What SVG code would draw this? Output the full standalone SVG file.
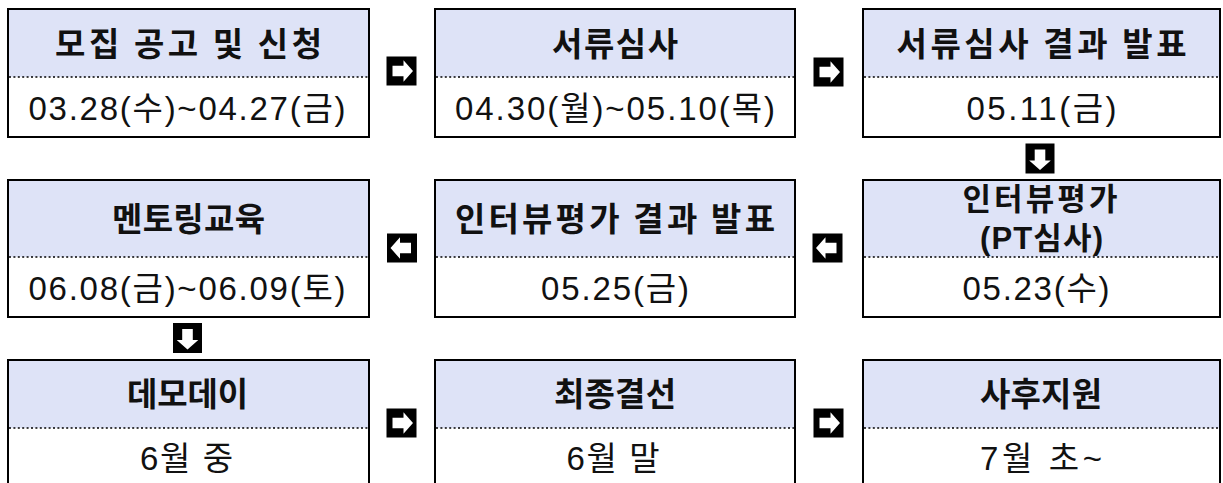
<svg xmlns="http://www.w3.org/2000/svg" xmlns:xlink="http://www.w3.org/1999/xlink" width="1223" height="483" viewBox="0 0 1223 483">
<style>
  .hd { fill: #dee3f7; stroke: none; }
  .frame { fill: none; stroke: #000; stroke-width: 2; }
  .div { stroke: #000; stroke-width: 1.6; stroke-dasharray: 2 2.4; fill: none; }
  .ht { font-family: "Noto Sans CJK KR", "Liberation Sans", sans-serif; font-size: 33px; font-weight: 700; fill: #111; text-anchor: middle; }
  .ht2 { font-family: "Liberation Sans", "Noto Sans CJK KR", sans-serif; font-size: 31px; }
  .dt { font-family: "Liberation Sans", "Noto Sans CJK KR", sans-serif; font-size: 33px; font-weight: 400; fill: #111; text-anchor: middle; }
</style>
<defs>
  <g id="arrR">
    <rect x="-15" y="-14.5" width="30" height="29" fill="#000"/>
    <polygon points="-9,-5.3 2,-5.3 2,-10.8 11.5,0 2,10.8 2,5.3 -9,5.3" fill="#fff"/>
  </g>
</defs>
<rect width="1223" height="483" fill="#fff"/>

<!-- Row 1 -->
<g id="n1">
  <rect class="hd" x="8" y="9" width="361" height="68"/>
  <line class="div" x1="9" y1="77" x2="368" y2="77"/>
  <rect class="frame" x="8" y="9" width="361" height="128"/>
  <text class="ht" x="188.5" y="56" textLength="267" lengthAdjust="spacing">모집 공고 및 신청</text>
  <text class="dt" x="187" y="120" textLength="317" lengthAdjust="spacing">03.28(수)~04.27(금)</text>
</g>
<g id="n2">
  <rect class="hd" x="435" y="9" width="360" height="68"/>
  <line class="div" x1="436" y1="77" x2="794" y2="77"/>
  <rect class="frame" x="435" y="9" width="360" height="128"/>
  <text class="ht" x="615" y="56" textLength="126" lengthAdjust="spacing">서류심사</text>
  <text class="dt" x="615" y="120" textLength="320" lengthAdjust="spacing">04.30(월)~05.10(목)</text>
</g>
<g id="n3">
  <rect class="hd" x="863" y="9" width="357" height="68"/>
  <line class="div" x1="864" y1="77" x2="1219" y2="77"/>
  <rect class="frame" x="863" y="9" width="357" height="128"/>
  <text class="ht" x="1041.5" y="56" textLength="290" lengthAdjust="spacing">서류심사 결과 발표</text>
  <text class="dt" x="1041.5" y="120" textLength="150" lengthAdjust="spacing">05.11(금)</text>
</g>

<!-- Row 2 -->
<g id="n4">
  <rect class="hd" x="8" y="180" width="361" height="77"/>
  <line class="div" x1="9" y1="257" x2="368" y2="257"/>
  <rect class="frame" x="8" y="180" width="361" height="137"/>
  <text class="ht" x="188.5" y="231" textLength="153" lengthAdjust="spacing">멘토링교육</text>
  <text class="dt" x="187" y="300" textLength="317" lengthAdjust="spacing">06.08(금)~06.09(토)</text>
</g>
<g id="n5">
  <rect class="hd" x="435" y="180" width="360" height="77"/>
  <line class="div" x1="436" y1="257" x2="794" y2="257"/>
  <rect class="frame" x="435" y="180" width="360" height="137"/>
  <text class="ht" x="615" y="231" textLength="320" lengthAdjust="spacing">인터뷰평가 결과 발표</text>
  <text class="dt" x="615" y="300" textLength="148" lengthAdjust="spacing">05.25(금)</text>
</g>
<g id="n6">
  <rect class="hd" x="863" y="180" width="357" height="77"/>
  <line class="div" x1="864" y1="257" x2="1219" y2="257"/>
  <rect class="frame" x="863" y="180" width="357" height="137"/>
  <text class="ht ht2" x="1040" y="210" textLength="155" lengthAdjust="spacing">인터뷰평가</text>
  <text class="ht ht2" x="1041.5" y="249" textLength="123" lengthAdjust="spacing">(PT심사)</text>
  <text class="dt" x="1036" y="300" textLength="147" lengthAdjust="spacing">05.23(수)</text>
</g>

<!-- Row 3 -->
<g id="n7">
  <rect class="hd" x="8" y="360" width="361" height="68"/>
  <line class="div" x1="9" y1="428" x2="368" y2="428"/>
  <rect class="frame" x="8" y="360" width="361" height="135"/>
  <text class="ht" x="187.5" y="406" textLength="121" lengthAdjust="spacing">데모데이</text>
  <text class="dt" x="186.5" y="470" textLength="93" lengthAdjust="spacing">6월 중</text>
</g>
<g id="n8">
  <rect class="hd" x="435" y="360" width="360" height="68"/>
  <line class="div" x1="436" y1="428" x2="794" y2="428"/>
  <rect class="frame" x="435" y="360" width="360" height="135"/>
  <text class="ht" x="615" y="406" textLength="122" lengthAdjust="spacing">최종결선</text>
  <text class="dt" x="613" y="470" textLength="93" lengthAdjust="spacing">6월 말</text>
</g>
<g id="n9">
  <rect class="hd" x="863" y="360" width="357" height="68"/>
  <line class="div" x1="864" y1="428" x2="1219" y2="428"/>
  <rect class="frame" x="863" y="360" width="357" height="135"/>
  <text class="ht" x="1041" y="406" textLength="122" lengthAdjust="spacing">사후지원</text>
  <text class="dt" x="1041" y="470" textLength="122" lengthAdjust="spacing">7월 초~</text>
</g>

<!-- Connectors -->
<g id="connectors">
  <use xlink:href="#arrR" transform="translate(401.5,71)"/>
  <use xlink:href="#arrR" transform="translate(828.5,72)"/>
  <use xlink:href="#arrR" transform="translate(1040,158.5) rotate(90)"/>
  <use xlink:href="#arrR" transform="translate(827.5,248) rotate(180)"/>
  <use xlink:href="#arrR" transform="translate(402,248) rotate(180)"/>
  <use xlink:href="#arrR" transform="translate(187.5,338) rotate(90)"/>
  <use xlink:href="#arrR" transform="translate(401.5,423)"/>
  <use xlink:href="#arrR" transform="translate(828.5,423)"/>
</g>
</svg>
